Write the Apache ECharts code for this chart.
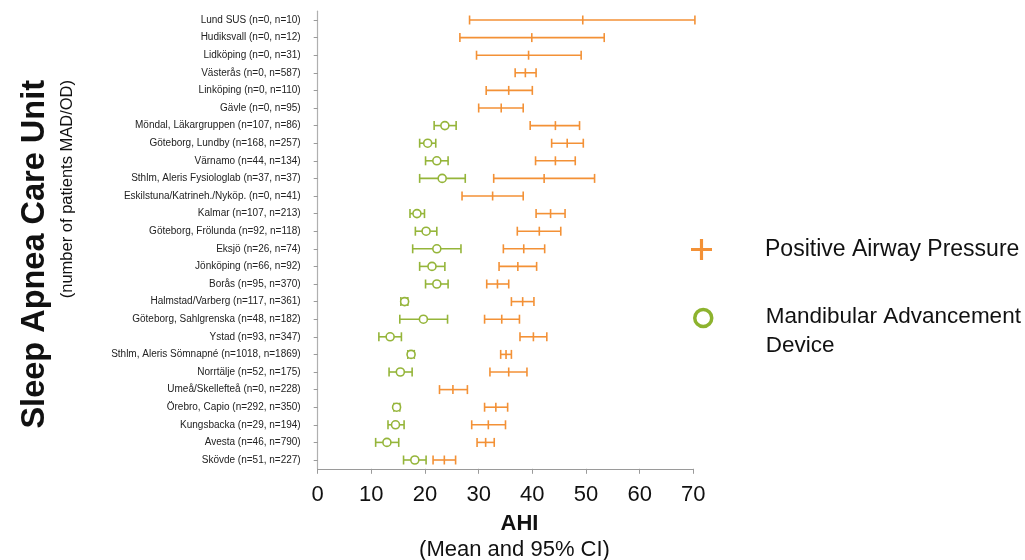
<!DOCTYPE html>
<html>
<head>
<meta charset="utf-8">
<script src="https://cdn.jsdelivr.net/npm/echarts@6/dist/echarts.min.js"></script>
<style>
  html, body { margin: 0; padding: 0; background: #fff; }
  #chart { width: 1025px; height: 560px; }
</style>
</head>
<body>
<div id="chart"></div>
<script>
const units = [
  'Lund SUS (n=0, n=10)', 'Hudiksvall (n=0, n=12)', 'Lidköping (n=0, n=31)', 'Västerås (n=0, n=587)',
  'Linköping (n=0, n=110)', 'Gävle (n=0, n=95)', 'Möndal, Läkargruppen (n=107, n=86)',
  'Göteborg, Lundby (n=168, n=257)', 'Värnamo (n=44, n=134)', 'Sthlm, Aleris Fysiologlab (n=37, n=37)',
  'Eskilstuna/Katrineh./Nyköp. (n=0, n=41)', 'Kalmar (n=107, n=213)', 'Göteborg, Frölunda (n=92, n=118)',
  'Eksjö (n=26, n=74)', 'Jönköping (n=66, n=92)', 'Borås (n=95, n=370)', 'Halmstad/Varberg (n=117, n=361)',
  'Göteborg, Sahlgrenska (n=48, n=182)', 'Ystad (n=93, n=347)', 'Sthlm, Aleris Sömnapné (n=1018, n=1869)',
  'Norrtälje (n=52, n=175)', 'Umeå/Skellefteå (n=0, n=228)', 'Örebro, Capio (n=292, n=350)',
  'Kungsbacka (n=29, n=194)', 'Avesta (n=46, n=790)', 'Skövde (n=51, n=227)'
];

// Positive Airway Pressure (mean and 95% CI)
const papLow  = [28.3, 26.5, 29.6, 36.8, 31.4, 30.0, 39.6, 43.6, 40.6, 32.8, 26.9, 40.7, 37.2, 34.6, 33.8, 31.5, 36.1, 31.1, 37.7, 34.1, 32.1, 22.7, 31.1, 28.7, 29.7, 21.5];
const papMean = [49.4, 39.9, 39.3, 38.7, 35.6, 34.2, 44.3, 46.5, 44.3, 42.2, 32.6, 43.4, 41.3, 38.4, 37.3, 33.5, 38.2, 34.3, 40.2, 35.1, 35.6, 25.2, 33.2, 31.8, 31.3, 23.6];
const papHigh = [70.3, 53.4, 49.1, 40.7, 40.0, 38.3, 48.8, 49.5, 48.0, 51.6, 38.3, 46.1, 45.3, 42.3, 40.8, 35.6, 40.3, 37.6, 42.7, 36.1, 39.0, 27.9, 35.4, 35.0, 32.9, 25.7];

// Mandibular Advancement Device (null = no patients)
const madLow  = [null, null, null, null, null, null, 21.7, 19.0, 20.1, 19.0, null, 17.2, 18.2, 17.7, 19.0, 20.1, 15.5, 15.3, 11.4, 16.8, 13.3, null, 14.2, 13.1, 10.8, 16.0];
const madMean = [null, null, null, null, null, null, 23.7, 20.5, 22.2, 23.2, null, 18.5, 20.2, 22.2, 21.3, 22.2, 16.2, 19.7, 13.5, 17.4, 15.4, null, 14.7, 14.5, 12.9, 18.1];
const madHigh = [null, null, null, null, null, null, 25.8, 22.0, 24.3, 27.5, null, 19.9, 22.2, 26.7, 23.7, 24.3, 16.8, 24.2, 15.6, 18.0, 17.6, null, 15.3, 16.1, 15.1, 20.2];

const xTicks = { min: 0, max: 70, interval: 10 };

const PAP = 'Positive Airway Pressure';
const MAD = 'Mandibular Advancement Device';
const orange = '#f39136';
const green = '#95b53a';
const font = '"Liberation Sans", Arial, sans-serif';

function rows(lo, mean, hi) {
  const out = [];
  for (let i = 0; i < units.length; i++) {
    if (mean[i] == null) continue;
    out.push([i, lo[i], mean[i], hi[i]]);
  }
  return out;
}

function makeRender(color, marker) {
  return function (params, api) {
    const cat = api.value(0);
    const lo = api.coord([api.value(1), cat]);
    const mid = api.coord([api.value(2), cat]);
    const hi = api.coord([api.value(3), cat]);
    const h = 4.5;
    const style = { stroke: color, lineWidth: 1.6, fill: null };
    const children = [
      { type: 'line', shape: { x1: lo[0], y1: lo[1], x2: hi[0], y2: hi[1] }, style: style },
      { type: 'line', shape: { x1: lo[0], y1: lo[1] - h, x2: lo[0], y2: lo[1] + h }, style: style },
      { type: 'line', shape: { x1: hi[0], y1: hi[1] - h, x2: hi[0], y2: hi[1] + h }, style: style }
    ];
    if (marker === 'circle') {
      children.push({ type: 'circle', shape: { cx: mid[0], cy: mid[1], r: 4 }, style: { stroke: color, lineWidth: 1.6, fill: '#fff' } });
    } else {
      children.push({ type: 'line', shape: { x1: mid[0], y1: mid[1] - h, x2: mid[0], y2: mid[1] + h }, style: style });
    }
    return { type: 'group', children: children };
  };
}

const chart = echarts.init(document.getElementById('chart'));

chart.setOption({
  animation: false,
  backgroundColor: '#fff',
  textStyle: { fontFamily: font },
  grid: { left: 317.7, right: 331.7, top: 11.2, bottom: 91.2, containLabel: false, outerBoundsMode: 'none' },
  legend: [
    {
      data: [{ name: PAP, icon: 'path://M8.5,0H11.5V20H8.5ZM0,8.5H20V11.5H0Z', itemStyle: { color: orange } }],
      left: 691, top: 238, padding: 0, itemWidth: 21, itemHeight: 21, selectedMode: false,
      textStyle: { fontSize: 23, color: '#111', fontFamily: font, padding: [0, 0, 0, 48] }
    },
    {
      data: [{ name: MAD, icon: 'circle', itemStyle: { color: '#fff', borderColor: '#8db32e', borderWidth: 3.5 } }],
      left: 693, top: 288, padding: 0, itemWidth: 17, itemHeight: 17, selectedMode: false,
      formatter: function () { return '{s| }\n{t|Mandibular Advancement}\n{t|Device}'; },
      textStyle: {
        color: '#111', fontFamily: font, padding: [0, 0, 0, 49],
        rich: {
          s: { fontSize: 2, lineHeight: 26 },
          t: { fontSize: 22.5, lineHeight: 29, color: '#111', fontFamily: font }
        }
      }
    }
  ],
  xAxis: {
    type: 'value',
    min: xTicks.min,
    max: xTicks.max,
    interval: xTicks.interval,
    axisLine: { show: true, lineStyle: { color: '#9a9a9a', width: 1 } },
    axisTick: { show: true, length: 5, lineStyle: { color: '#9a9a9a' } },
    axisLabel: { fontSize: 22, color: '#111', margin: 15, fontFamily: font },
    splitLine: { show: false },
    name: '{a|AHI}\n{b|(Mean and 95% CI)}',
    nameLocation: 'middle',
    nameGap: 42,
    nameTextStyle: {
      padding: [0, 0, 0, 18],
      rich: {
        a: { fontSize: 22, fontWeight: 'bold', color: '#111', lineHeight: 26, fontFamily: font, padding: [0, 0, 0, 10] },
        b: { fontSize: 22, color: '#111', lineHeight: 26, fontFamily: font }
      }
    }
  },
  yAxis: {
    type: 'category',
    data: units,
    inverse: true,
    offset: 8,
    axisLine: { show: true, lineStyle: { color: '#b0b0b0', width: 1.2 } },
    axisTick: { show: true, alignWithLabel: true, length: 4, lineStyle: { color: '#9a9a9a' } },
    axisLabel: { fontSize: 10, color: '#222', margin: 9, fontFamily: font, interval: 0 },
    splitLine: { show: false }
  },
  graphic: [
    {
      type: 'text', x: 35, y: 80, rotation: Math.PI / 2,
      style: { text: 'Sleep Apnea Care Unit', fill: '#111', font: 'bold 32.5px ' + font, textAlign: 'right', textVerticalAlign: 'middle' }
    },
    {
      type: 'text', x: 67, y: 80, rotation: Math.PI / 2,
      style: { text: '(number of patients MAD/OD)', fill: '#111', font: '16.5px ' + font, textAlign: 'right', textVerticalAlign: 'middle' }
    }
  ],
  series: [
    {
      name: PAP,
      type: 'custom',
      clip: false,
      itemStyle: { color: orange },
      encode: { x: [1, 2, 3], y: 0 },
      renderItem: makeRender(orange, 'tick'),
      data: rows(papLow, papMean, papHigh)
    },
    {
      name: MAD,
      type: 'custom',
      clip: false,
      itemStyle: { color: green },
      encode: { x: [1, 2, 3], y: 0 },
      renderItem: makeRender(green, 'circle'),
      data: rows(madLow, madMean, madHigh)
    }
  ]
});
</script>
</body>
</html>
